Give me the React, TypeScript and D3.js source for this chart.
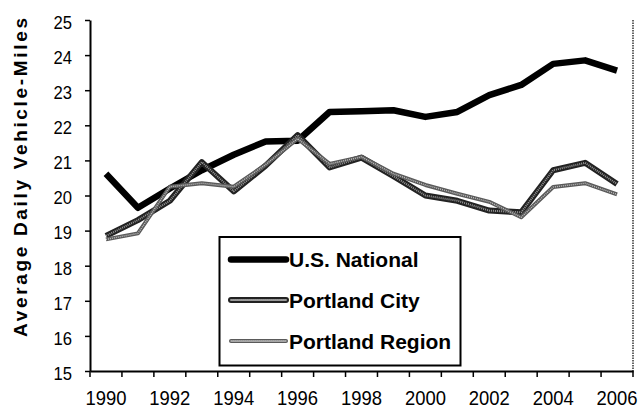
import * as d3 from "d3";
import { useEffect, useRef } from "react";

const years = [
  1990, 1991, 1992, 1993, 1994, 1995, 1996, 1997, 1998, 1999, 2000, 2001, 2002, 2003, 2004, 2005, 2006,
];
const usNational = [
  20.62, 19.65, 20.2, 20.72, 21.16, 21.54, 21.56, 22.38, 22.4, 22.43, 22.24, 22.38, 22.86, 23.15, 23.75, 23.85, 23.56,
];
const portlandCity = [
  18.85, 19.3, 19.85, 20.95, 20.12, 20.85, 21.72, 20.8, 21.08, 20.55, 20.0, 19.85, 19.57, 19.52, 20.72, 20.93, 20.33,
];
const portlandRegion = [
  18.75, 18.92, 20.25, 20.35, 20.25, 20.88, 21.62, 20.9, 21.1, 20.62, 20.3, 20.05, 19.82, 19.38, 20.24, 20.35, 20.03,
];
const yTicks = [15, 16, 17, 18, 19, 20, 21, 22, 23, 24, 25];
const xLabels = [1990, 1992, 1994, 1996, 1998, 2000, 2002, 2004, 2006];
const seriesNames = ["U.S. National", "Portland City", "Portland Region"];

const FONT = "'Liberation Sans', Arial, sans-serif";

export default function App() {
  const ref = useRef<SVGSVGElement>(null);

  useEffect(() => {
    if (!ref.current) return;
    const svg = d3.select(ref.current);
    svg.selectAll("*").remove();

    const width = 641;
    const height = 411;
    const left = 90;
    const right = 633;
    const top = 20;
    const bottom = 371;

    svg.attr("width", width).attr("height", height).attr("viewBox", `0 0 ${width} ${height}`);
    svg.append("rect").attr("width", width).attr("height", height).attr("fill", "#fff");

    const x = d3.scaleBand<number>().domain(years).range([left, right]);
    const y = d3.scaleLinear().domain([15, 25]).range([bottom, top]);
    const cx = (yr: number) => (x(yr) ?? 0) + x.bandwidth() / 2;

    // right border of plot area
    svg
      .append("line")
      .attr("x1", right)
      .attr("x2", right)
      .attr("y1", top)
      .attr("y2", bottom)
      .attr("stroke", "#333")
      .attr("stroke-width", 1.5)
      .attr("stroke-dasharray", "1.5,1");

    const line = d3
      .line<number>()
      .x((_, i) => cx(years[i]))
      .y((d) => y(d));

    // each series is an outer stroke plus an optional dotted inner stroke
    const styles = [
      [{ stroke: "#000", w: 6.5, dash: null }],
      [
        { stroke: "#222", w: 6, dash: null },
        { stroke: "#999", w: 2, dash: "1,1" },
      ],
      [
        { stroke: "#5a5a5a", w: 4, dash: null },
        { stroke: "#c0c0c0", w: 1.4, dash: "1,1" },
      ],
    ];
    const data = [usNational, portlandCity, portlandRegion];

    data.forEach((vals, si) => {
      styles[si].forEach((s) => {
        svg
          .append("path")
          .datum(vals)
          .attr("fill", "none")
          .attr("stroke", s.stroke)
          .attr("stroke-width", s.w)
          .attr("stroke-linejoin", "round")
          .attr("stroke-dasharray", s.dash)
          .attr("d", line);
      });
    });

    // y axis
    svg
      .append("g")
      .attr("transform", `translate(${left},0)`)
      .call(d3.axisLeft(y).tickValues(yTicks).tickSize(5).tickSizeOuter(0).tickPadding(13))
      .call((g) => g.select(".domain").attr("stroke", "#000").attr("stroke-width", 2))
      .call((g) => g.selectAll("line").attr("stroke", "#000").attr("stroke-width", 1.5))
      .call((g) =>
        g
          .selectAll("text")
          .attr("fill", "#000")
          .attr("font-family", FONT)
          .attr("font-size", 18.6)
          .attr("dy", "0.45em")
          .attr("textLength", 18.5)
          .attr("lengthAdjust", "spacingAndGlyphs")
      );

    // x axis: ticks on category boundaries, labels on every other year
    const xAxis = svg.append("g").attr("transform", `translate(0,${bottom})`);
    xAxis
      .selectAll("line.tick")
      .data([...years.map((yr) => x(yr) ?? 0), right])
      .join("line")
      .attr("x1", (d) => d)
      .attr("x2", (d) => d)
      .attr("y1", 0)
      .attr("y2", 6)
      .attr("stroke", "#000")
      .attr("stroke-width", 1.5);
    xAxis
      .call(d3.axisBottom(x).tickValues(xLabels).tickSize(0).tickSizeOuter(0))
      .call((g) => g.select(".domain").attr("stroke", "#000").attr("stroke-width", 2))
      .call((g) =>
        g
          .selectAll("text")
          .attr("fill", "#000")
          .attr("font-family", FONT)
          .attr("font-size", 20.5)
          .attr("y", 34)
          .attr("dy", 0)
          .attr("textLength", 41)
          .attr("lengthAdjust", "spacingAndGlyphs")
      );

    // y axis title
    svg
      .append("text")
      .attr("transform", `translate(27,177.5) rotate(-90)`)
      .attr("text-anchor", "middle")
      .attr("font-family", FONT)
      .attr("font-weight", "bold")
      .attr("font-size", 19)
      .attr("textLength", 319)
      .attr("lengthAdjust", "spacing")
      .attr("fill", "#000")
      .text("Average Daily Vehicle-Miles");

    // legend
    const legend = svg.append("g");
    legend
      .append("rect")
      .attr("x", 219.5)
      .attr("y", 237)
      .attr("width", 241)
      .attr("height", 128.5)
      .attr("fill", "#fff")
      .attr("stroke", "#000")
      .attr("stroke-width", 2);
    const rowY = [259.5, 300, 341];
    seriesNames.forEach((name, si) => {
      styles[si].forEach((s) => {
        legend
          .append("line")
          .attr("x1", 231)
          .attr("x2", 286)
          .attr("y1", rowY[si])
          .attr("y2", rowY[si])
          .attr("stroke", s.stroke)
          .attr("stroke-width", s.w)
          .attr("stroke-linecap", "round")
          .attr("stroke-dasharray", s.dash);
      });
      legend
        .append("text")
        .attr("x", 289)
        .attr("y", rowY[si] + 7.5)
        .attr("font-family", FONT)
        .attr("font-weight", "bold")
        .attr("font-size", 21)
        .attr("fill", "#000")
        .text(name);
    });
  }, []);

  return (
    <svg
      ref={ref}
      style={{ position: "absolute", left: 0, top: 0, display: "block" }}
      role="img"
      aria-label="Average daily vehicle-miles, 1990-2006"
    />
  );
}
